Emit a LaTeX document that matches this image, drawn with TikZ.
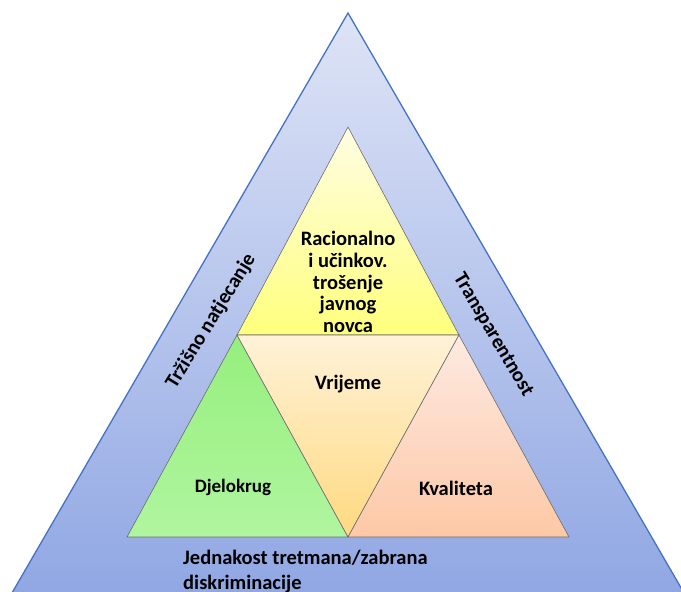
\documentclass[tikz,border=0pt]{standalone}
\usepackage{fontspec}
\setmainfont{Carlito}
\begin{document}
\begin{tikzpicture}[x=1pt,y=-1pt,
  tri/.style={draw=gray!85!black, line width=0.6pt, line join=miter},
  lbl/.style={font=\bfseries\fontsize{20.5}{21.7}\selectfont, text=black, inner sep=0pt, align=center}]
\useasboundingbox (0,0) rectangle (681,592);
\clip (0,0) rectangle (681,592);
% outer triangle
\coordinate (OA) at (348,13);
\coordinate (OL) at (5,605);
\coordinate (OR) at (691,605);
\shade[top color={rgb,255:red,222;green,228;blue,246}, bottom color={rgb,255:red,143;green,166;blue,227}]
  (OA) -- (OL) -- (OR) -- cycle;
\draw[draw={rgb,255:red,68;green,114;blue,196}, line width=1.3pt, line join=miter] (OL) -- (OA) -- (OR);
% inner points
\coordinate (Y) at (348,127);
\coordinate (ML) at (237,335);
\coordinate (MR) at (459,335);
\coordinate (BL) at (127,537);
\coordinate (BM) at (348,537);
\coordinate (BR) at (569,537);
% yellow
\shade[top color={rgb,255:red,255;green,253;blue,226}, bottom color={rgb,255:red,255;green,255;blue,125}] (Y) -- (ML) -- (MR) -- cycle;
\draw[tri] (Y) -- (ML) -- (MR) -- cycle;
% green
\shade[top color={rgb,255:red,150;green,239;blue,125}, bottom color={rgb,255:red,176;green,245;blue,160}] (ML) -- (BL) -- (BM) -- cycle;
\draw[tri] (ML) -- (BL) -- (BM) -- cycle;
% vrijeme
\shade[top color={rgb,255:red,255;green,242;blue,216}, bottom color={rgb,255:red,255;green,217;blue,128}] (ML) -- (MR) -- (BM) -- cycle;
\draw[tri] (ML) -- (MR) -- (BM) -- cycle;
% salmon
\shade[top color={rgb,255:red,253;green,234;blue,226}, bottom color={rgb,255:red,253;green,200;blue,166}] (MR) -- (BM) -- (BR) -- cycle;
\draw[tri] (MR) -- (BM) -- (BR) -- cycle;
% labels
\node[lbl] (rac) at (348,282) {Racionalno\\i učinkov.\\trošenje\\javnog\\novca};
\node[lbl] (vri) at (348,384) {Vrijeme};
\node[lbl, font=\bfseries\fontsize{19}{21}\selectfont] (dje) at (233,487) {Djelokrug};
\node[lbl] (kva) at (456,488) {Kvaliteta};
\node[lbl, rotate=58.5] (trz) at (211,321) {Tržišno natjecanje};
\node[lbl, rotate=-59.5] (tra) at (493,335) {Transparentnost};
\node[lbl, align=left, anchor=north west, font=\bfseries\fontsize{20.5}{25}\selectfont] (jed) at (183,550) {Jednakost tretmana/zabrana\\diskriminacije};
\end{tikzpicture}
\end{document}
